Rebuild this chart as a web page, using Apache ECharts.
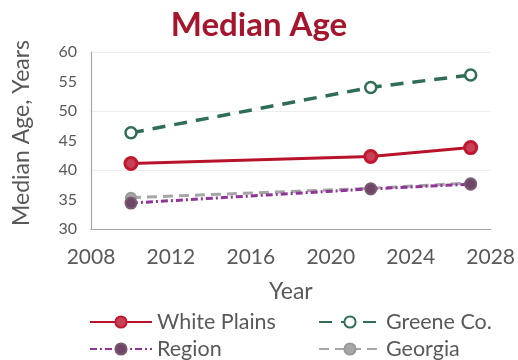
<!DOCTYPE html>
<html><head><meta charset="utf-8">
<script src="https://cdn.jsdelivr.net/npm/echarts@6/dist/echarts.min.js"></script>
<style>html,body{margin:0;padding:0;background:#fff}#c{width:518px;height:360px}</style>
</head><body><div id="c"></div>
<script>
const years = [2010, 2022, 2027];
const whitePlains = [41.1, 42.3, 43.8];
const greeneCo = [46.3, 54.0, 56.1];
const region = [34.4, 36.8, 37.6];
const georgia = [35.3, 36.9, 37.8];
const xTicks = [2008, 2028, 4];
const yTicks = [30, 60, 5];

const pts = a => years.map((y, i) => [y, a[i]]);
const chart = echarts.init(document.getElementById('c'));
const font = 'Lato, "Open Sans", sans-serif';
const legendBase = {
  itemWidth: 62, itemHeight: 14, itemGap: 5,
  textStyle: {fontFamily: font, fontSize: 21.5, color: '#595959'}
};
chart.setOption({
  animation: false,
  title: {text: 'Median Age', left: 'center', top: 4,
    textStyle: {fontFamily: font, fontSize: 33, fontWeight: 'bold', color: '#a5152b'}},
  grid: {left: 91, right: 23, top: 52, bottom: 131},
  graphic: [{type: 'text', x: 22, y: 133, rotation: Math.PI / 2,
    style: {text: 'Median Age, Years', fontFamily: font, fontSize: 23, fill: '#595959',
      textAlign: 'center', textVerticalAlign: 'middle', align: 'center', verticalAlign: 'middle'}}],
  xAxis: {type: 'value', min: xTicks[0], max: xTicks[1], interval: xTicks[2],
    name: 'Year', nameLocation: 'middle', nameGap: 51,
    nameTextStyle: {fontFamily: font, fontSize: 23, color: '#595959'},
    axisLine: {lineStyle: {color: '#a6a6a6', width: 1.2}}, axisTick: {show: false},
    splitLine: {show: false},
    axisLabel: {fontFamily: font, fontSize: 21, color: '#595959', margin: 18,
      formatter: v => String(v)}},
  yAxis: {type: 'value', min: yTicks[0], max: yTicks[1], interval: yTicks[2],
    axisLine: {show: true, lineStyle: {color: '#a6a6a6', width: 1.2}}, axisTick: {show: false},
    splitLine: {show: true, lineStyle: {color: ['#eeeeee', 'rgba(0,0,0,0)'], width: 1}},
    axisLabel: {fontFamily: font, fontSize: 16, color: '#595959', margin: 14}},
  legend: [
    Object.assign({left: 84, top: 306, data: ['White Plains']}, legendBase),
    Object.assign({left: 313, top: 306, data: ['Greene Co.']}, legendBase),
    Object.assign({left: 84, top: 333, data: ['Region']}, legendBase),
    Object.assign({left: 313, top: 333, data: ['Georgia']}, legendBase)
  ],
  series: [
    {name: 'Georgia', type: 'line', data: pts(georgia), symbol: 'circle', symbolSize: 10, z: 2,
      lineStyle: {color: '#a6a6a6', width: 3, type: [10, 6]},
      itemStyle: {color: '#a6a6a6', borderColor: '#9a9a9a', borderWidth: 2}},
    {name: 'Region', type: 'line', data: pts(region), symbol: 'circle', symbolSize: 11, z: 3,
      lineStyle: {color: '#8e3596', width: 3, type: [7, 3, 2, 3]},
      itemStyle: {color: '#6e4565', borderColor: '#7a5a73', borderWidth: 2}},
    {name: 'White Plains', type: 'line', data: pts(whitePlains), symbol: 'circle', symbolSize: 12, z: 4,
      lineStyle: {color: '#b8132a', width: 3},
      itemStyle: {color: '#c84056', borderColor: '#c0182e', borderWidth: 3}},
    {name: 'Greene Co.', type: 'line', data: pts(greeneCo), symbol: 'circle', symbolSize: 11, z: 5,
      showSymbol: true,
      lineStyle: {color: '#2f6e55', width: 3.5, type: [13, 9]},
      itemStyle: {color: '#ffffff', borderColor: '#2f6e55', borderWidth: 2.5, opacity: 1}}
  ]
});
</script></body></html>
